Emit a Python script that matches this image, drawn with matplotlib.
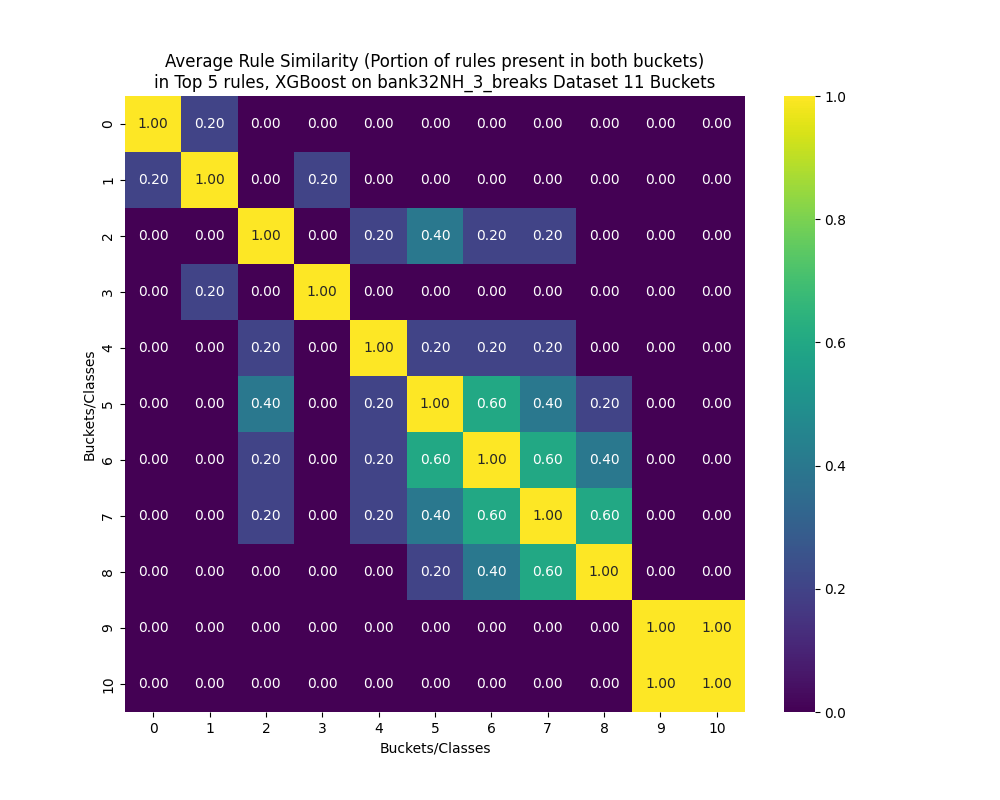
import matplotlib
matplotlib.use("Agg")
import matplotlib.pyplot as plt
import seaborn as sns
import numpy as np

labels = [str(i) for i in range(11)]
row0 = [1.0, 0.2, 0, 0, 0, 0, 0, 0, 0, 0, 0]
row1 = [0.2, 1.0, 0, 0.2, 0, 0, 0, 0, 0, 0, 0]
row2 = [0, 0, 1.0, 0, 0.2, 0.4, 0.2, 0.2, 0, 0, 0]
row3 = [0, 0.2, 0, 1.0, 0, 0, 0, 0, 0, 0, 0]
row4 = [0, 0, 0.2, 0, 1.0, 0.2, 0.2, 0.2, 0, 0, 0]
row5 = [0, 0, 0.4, 0, 0.2, 1.0, 0.6, 0.4, 0.2, 0, 0]
row6 = [0, 0, 0.2, 0, 0.2, 0.6, 1.0, 0.6, 0.4, 0, 0]
row7 = [0, 0, 0.2, 0, 0.2, 0.4, 0.6, 1.0, 0.6, 0, 0]
row8 = [0, 0, 0, 0, 0, 0.2, 0.4, 0.6, 1.0, 0, 0]
row9 = [0, 0, 0, 0, 0, 0, 0, 0, 0, 1.0, 1.0]
row10 = [0, 0, 0, 0, 0, 0, 0, 0, 0, 1.0, 1.0]

data = np.array([row0, row1, row2, row3, row4, row5, row6, row7, row8, row9, row10])

fig = plt.figure(figsize=(10, 8), dpi=100)
ax = sns.heatmap(data, annot=True, fmt=".2f", cmap="viridis",
                 xticklabels=labels, yticklabels=labels, vmin=0, vmax=1)
ax.set_title("Average Rule Similarity (Portion of rules present in both buckets)\n"
             "in Top 5 rules, XGBoost on bank32NH_3_breaks Dataset 11 Buckets", fontsize=12)
ax.set_xlabel("Buckets/Classes")
ax.set_ylabel("Buckets/Classes")
fig.savefig("out.png", dpi=100)
